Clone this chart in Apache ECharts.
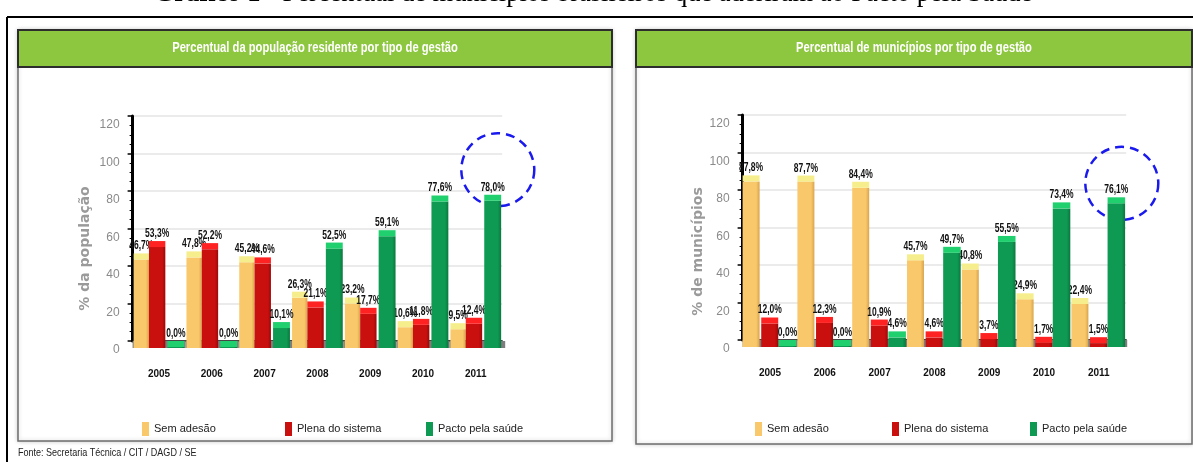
<!DOCTYPE html>
<html>
<head>
<meta charset="utf-8">
<script src="https://cdn.jsdelivr.net/npm/echarts@6/dist/echarts.min.js"></script>
<style>
  html, body { margin: 0; padding: 0; background: #fff; }
  #main { width: 1193px; height: 462px; }
</style>
</head>
<body>
<div id="main"></div>
<script>
// Years on the category axis
const years = ['2005', '2006', '2007', '2008', '2009', '2010', '2011'];
const seriesNames = ['Sem adesão', 'Plena do sistema', 'Pacto pela saúde'];
const yTicks = [0, 20, 40, 60, 80, 100, 120];

// Share of resident population by management type (%)
const popSemAdesao = [46.7, 47.8, 45.2, 26.3, 23.2, 10.6, 9.5];
const popPlena     = [53.3, 52.2, 44.6, 21.1, 17.7, 11.8, 12.4];
const popPacto     = [0.0, 0.0, 10.1, 52.5, 59.1, 77.6, 78.0];

// Share of municipalities by management type (%)
const munSemAdesao = [87.8, 87.7, 84.4, 45.7, 40.8, 24.9, 22.4];
const munPlena     = [12.0, 12.3, 10.9, 4.6, 3.7, 1.7, 1.5];
const munPacto     = [0.0, 0.0, 4.6, 49.7, 55.5, 73.4, 76.1];

const SANS = "'Liberation Sans', Arial, sans-serif";
const FLOOR = 7;   // depth of the grey floor strip, px
const CAP = 6;     // height of the lit top face of each bar, px
const NARROW = 0.68; // horizontal squeeze for the condensed value labels

const palette = {
  yellow: { front: '#F9C86A', side: '#D9A44C', top: '#F6EE8C' },
  red:    { front: '#C9100F', side: '#9C0808', top: '#FF2222' },
  green:  { front: '#0E9A52', side: '#0A773E', top: '#20D06E' }
};

function fmt(v) {
  return v.toFixed(1).replace('.', ',') + '%';
}

// One 3D-looking bar per category: front face, lit top face and value label
function barSeries(name, values, gi, lo, hi, c) {
  return {
    type: 'custom',
    name: name,
    xAxisIndex: gi,
    yAxisIndex: gi,
    itemStyle: { color: c.front },
    data: values.map((v, i) => [i, v]),
    encode: { x: 0, y: 1 },
    animation: false,
    clip: false,
    z: 10,
    renderItem: function (params, api) {
      const i = api.value(0), v = api.value(1);
      const p = api.coord([i, v]);
      const b = api.coord([i, 0]);
      const band = api.size([1, 0])[0];
      const x0 = p[0] + lo * band;
      const w = (hi - lo) * band;
      const ty = p[1];
      const floorY = b[1] + FLOOR;
      const frontH = Math.max(0, floorY - ty - CAP);
      return {
        type: 'group',
        children: [
          {
            type: 'rect',
            shape: { x: x0, y: ty + CAP, width: w, height: frontH },
            style: {
              fill: new echarts.graphic.LinearGradient(0, 0, 1, 0, [
                { offset: 0, color: c.front },
                { offset: 0.8, color: c.front },
                { offset: 1, color: c.side }
              ])
            }
          },
          {
            type: 'rect',
            shape: { x: x0, y: ty, width: w, height: CAP },
            style: { fill: c.top }
          },
          {
            type: 'text',
            x: x0 + w / 2,
            y: ty - 1,
            scaleX: NARROW,
            style: {
              text: fmt(v),
              x: 0,
              y: 0,
              align: 'center',
              verticalAlign: 'bottom',
              font: 'bold 12.5px ' + SANS,
              fill: '#111'
            }
          }
        ]
      };
    }
  };
}

// Grey floor strip running under each chart
function floorSeries(gi, extra) {
  return {
    type: 'custom',
    xAxisIndex: gi,
    yAxisIndex: gi,
    silent: true,
    animation: false,
    z: 2,
    data: years.map((y, i) => [i, 0]),
    encode: { x: 0, y: 1 },
    renderItem: function (params, api) {
      const i = api.value(0);
      const b = api.coord([i, 0]);
      const band = api.size([1, 0])[0];
      const last = i === years.length - 1;
      return {
        type: 'rect',
        shape: { x: b[0] - band / 2, y: b[1], width: band + (last ? extra : 0), height: FLOOR },
        style: { fill: '#7d7d7d' }
      };
    }
  };
}

function xAxisFor(gi) {
  return {
    type: 'category',
    gridIndex: gi,
    data: years,
    offset: FLOOR,
    axisLine: { lineStyle: { color: '#111', width: 1.5 } },
    axisTick: { alignWithLabel: true, length: 7, lineStyle: { color: '#111', width: 1.5 } },
    axisLabel: { margin: 21, color: '#111', fontFamily: SANS, fontWeight: 'bold', fontSize: 10 }
  };
}

function yAxisFor(gi, name, gap, shift) {
  return {
    type: 'value',
    gridIndex: gi,
    min: yTicks[0],
    max: yTicks[yTicks.length - 1],
    interval: yTicks[1] - yTicks[0],
    name: name,
    nameLocation: 'middle',
    nameGap: gap,
    nameRotate: 90,
    nameTextStyle: {
      color: '#9a9a9a', fontFamily: 'DejaVu Sans', fontWeight: 'bold', fontSize: 14,
      padding: [0, shift, 0, 0]
    },
    axisLine: { show: true, lineStyle: { color: '#000', width: 3 } },
    axisTick: { show: true, length: 5, lineStyle: { color: '#000', width: 1.5 } },
    minorTick: { show: true, splitNumber: 4, length: 3, lineStyle: { color: '#000', width: 1 } },
    axisLabel: {
      margin: 13, color: '#8a8a8a', fontFamily: SANS, fontSize: 12,
      verticalAlign: 'top', lineHeight: 18
    },
    splitLine: { lineStyle: { color: '#e4e4e4', width: 1.5 } }
  };
}

// One legend entry per component so each sits at its own column
function legendItem(name, left) {
  return {
    data: [name],
    left: left,
    top: 417,
    icon: 'rect',
    itemWidth: 7,
    itemHeight: 14,
    selectedMode: false,
    textStyle: { color: '#222', fontFamily: SANS, fontSize: 11 }
  };
}

function panel(x, y, w, h, title) {
  return [
    {
      type: 'rect', z: -10,
      shape: { x: x, y: y, width: w, height: h },
      style: { fill: '#fff', stroke: '#6c6c6c', lineWidth: 1.5, shadowBlur: 4, shadowColor: 'rgba(0,0,0,0.18)' }
    },
    {
      type: 'rect', z: -9,
      shape: { x: x, y: y, width: w, height: 37 },
      style: { fill: '#8DC63F', stroke: '#2d2d2d', lineWidth: 2 }
    },
    {
      type: 'text', z: -8,
      x: x + w / 2, y: y + 18.5, scaleX: 0.8,
      style: {
        text: title, x: 0, y: 0,
        align: 'center', verticalAlign: 'middle',
        font: 'bold 14px ' + SANS, fill: '#fff'
      }
    }
  ];
}

const chart = echarts.init(document.getElementById('main'), null, { renderer: 'canvas' });

chart.setOption({
  backgroundColor: '#fff',
  animation: false,
  grid: [
    { left: 132.6, right: 1193 - 502.2, top: 116, bottom: 462 - 341 },
    { left: 742.6, right: 1193 - 1126.2, top: 115, bottom: 462 - 340 }
  ],
  xAxis: [xAxisFor(0), xAxisFor(1)],
  yAxis: [yAxisFor(0, '% da população', 40, 40), yAxisFor(1, '% de municípios', 31, 48)],
  legend: [
    legendItem(seriesNames[0], 137), legendItem(seriesNames[1], 280), legendItem(seriesNames[2], 421),
    legendItem(seriesNames[0], 750), legendItem(seriesNames[1], 887), legendItem(seriesNames[2], 1025)
  ],
  series: [
    floorSeries(0, 3),
    barSeries(seriesNames[0], popSemAdesao, 0, -0.48, -0.19, palette.yellow),
    barSeries(seriesNames[1], popPlena, 0, -0.19, 0.12, palette.red),
    barSeries(seriesNames[2], popPacto, 0, 0.16, 0.48, palette.green),
    floorSeries(1, 1),
    barSeries(seriesNames[0], munSemAdesao, 1, -0.5, -0.19, palette.yellow),
    barSeries(seriesNames[1], munPlena, 1, -0.16, 0.15, palette.red),
    barSeries(seriesNames[2], munPacto, 1, 0.16, 0.48, palette.green)
  ],
  graphic: [
    {
      type: 'text', z: 5,
      style: {
        text: '{b|Gráfico 1} - Percentual de municípios brasileiros que aderiram ao Pacto pela Saúde',
        x: 593, y: 8, align: 'center', verticalAlign: 'bottom',
        font: '26.5px "Liberation Serif", serif', fill: '#000',
        rich: { b: { font: 'bold 26.5px "Liberation Serif", serif', fill: '#000' } }
      }
    },
    { type: 'line', z: 5, shape: { x1: 7, y1: 17, x2: 1193, y2: 17 }, style: { stroke: '#000', lineWidth: 2 } },
    { type: 'line', z: 5, shape: { x1: 7, y1: 17, x2: 7, y2: 462 }, style: { stroke: '#000', lineWidth: 2 } },
    ...panel(18, 30, 594, 411, 'Percentual da população residente por tipo de gestão'),
    ...panel(636, 30, 556, 414, 'Percentual de municípios por tipo de gestão'),
    {
      type: 'text', z: 5,
      x: 18, y: 453, scaleX: 0.82,
      style: {
        text: 'Fonte: Secretaria Técnica / CIT / DAGD / SE', x: 0, y: 0,
        align: 'left', verticalAlign: 'middle',
        font: '11px ' + SANS, fill: '#222'
      }
    }
  ]
});

// Dashed highlight around the 2011 "Pacto pela saúde" bar of each chart
const last = years.length - 1;
const pPop = chart.convertToPixel({ gridIndex: 0 }, [last, popPacto[last]]);
const pMun = chart.convertToPixel({ gridIndex: 1 }, [last, munPacto[last]]);
const ringStyle = { fill: 'none', stroke: '#1a1aee', lineWidth: 2.5, lineDash: [9, 6] };
chart.setOption({
  graphic: [
    { id: 'ringPop', type: 'circle', z: 10, shape: { cx: pPop[0] + 22, cy: pPop[1] - 25, r: 36.5 }, style: ringStyle },
    { id: 'ringMun', type: 'circle', z: 10, shape: { cx: pMun[0] + 23, cy: pMun[1] - 14, r: 36.5 }, style: ringStyle }
  ]
});
</script>
</body>
</html>
